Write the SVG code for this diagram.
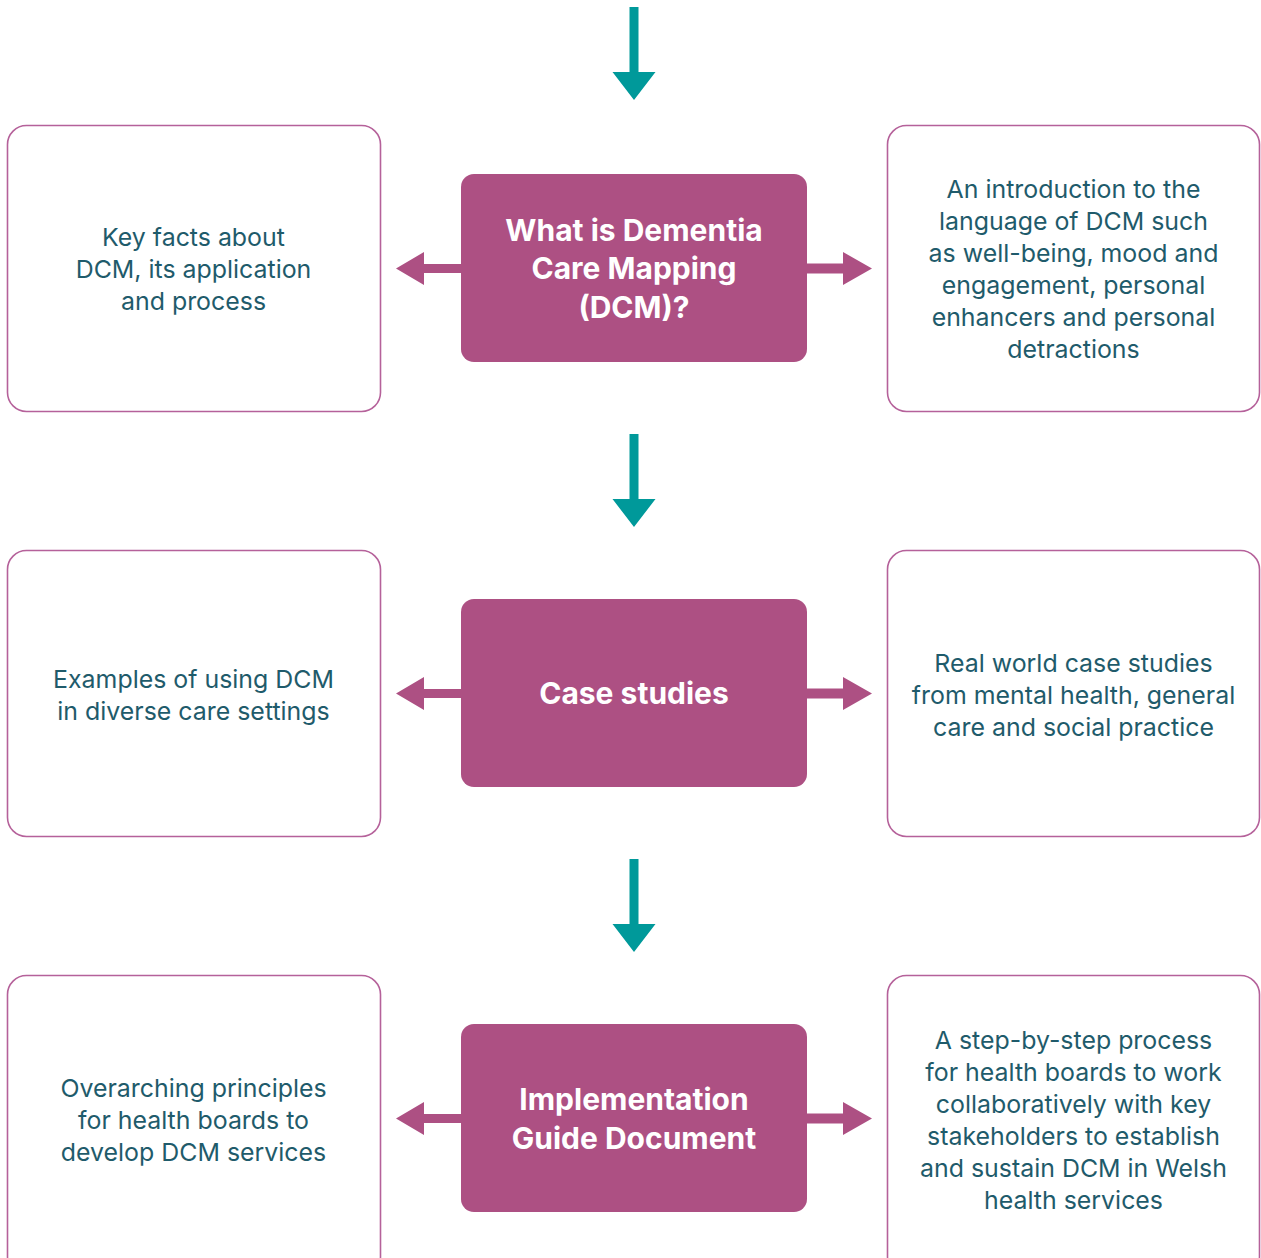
<svg xmlns="http://www.w3.org/2000/svg" width="1261" height="1258" viewBox="0 0 1261 1258">
<style>
.side{fill:#fff;stroke:#b5619a;stroke-width:1.6}
.main{fill:#ad5083}
.st{font-family:Inter,"Noto Sans",sans-serif;font-size:24.9px;fill:#1f5b6b;text-anchor:middle}
.mt{font-family:Inter,"Noto Sans",sans-serif;font-size:30px;font-weight:700;fill:#fff;text-anchor:middle}
.down{fill:#00999a}
.lr{fill:#ad5083}
</style>
<defs>
<path id="dn" d="M629.5,0 h9 v65 h17 l-21.5,28 l-21.5,-28 h17 z"/>
<path id="la" d="M461,264 h-37 v-12 l-28,16.5 l28,16.5 v-12 h37 z"/>
<path id="ra" d="M807,263.5 h36 v-11.5 l29,16.5 l-29,16.5 v-11.5 h-36 z"/>
</defs>
<g id="connectors">
<use href="#dn" class="down" y="7"/>
<use href="#dn" class="down" y="434"/>
<use href="#dn" class="down" y="859"/>
<use href="#la" class="lr"/>
<use href="#ra" class="lr"/>
<use href="#la" class="lr" y="425"/>
<use href="#ra" class="lr" y="425"/>
<use href="#la" class="lr" y="850"/>
<use href="#ra" class="lr" y="850"/>
</g>
<g id="node-what">
<rect class="main" x="461" y="174" width="346" height="188" rx="13"/>
<text class="mt" x="634" y="241">What is Dementia</text>
<text class="mt" x="634" y="279">Care Mapping</text>
<text class="mt" x="634" y="318">(DCM)?</text>
</g>
<g id="node-keyfacts">
<rect class="side" x="7.5" y="125.5" width="373" height="286" rx="19"/>
<text class="st" x="193.5" y="246">Key facts about</text>
<text class="st" x="193.5" y="278">DCM, its application</text>
<text class="st" x="193.5" y="310">and process</text>
</g>
<g id="node-intro">
<rect class="side" x="887.5" y="125.5" width="372" height="286" rx="19"/>
<text class="st" x="1073.5" y="198">An introduction to the</text>
<text class="st" x="1073.5" y="230">language of DCM such</text>
<text class="st" x="1073.5" y="262">as well-being, mood and</text>
<text class="st" x="1073.5" y="294">engagement, personal</text>
<text class="st" x="1073.5" y="326">enhancers and personal</text>
<text class="st" x="1073.5" y="358">detractions</text>
</g>
<g id="node-case">
<rect class="main" x="461" y="599" width="346" height="188" rx="13"/>
<text class="mt" x="634" y="704">Case studies</text>
</g>
<g id="node-examples">
<rect class="side" x="7.5" y="550.5" width="373" height="286" rx="19"/>
<text class="st" x="193.5" y="688">Examples of using DCM</text>
<text class="st" x="193.5" y="720">in diverse care settings</text>
</g>
<g id="node-realworld">
<rect class="side" x="887.5" y="550.5" width="372" height="286" rx="19"/>
<text class="st" x="1073.5" y="672">Real world case studies</text>
<text class="st" x="1073.5" y="704">from mental health, general</text>
<text class="st" x="1073.5" y="736">care and social practice</text>
</g>
<g id="node-impl">
<rect class="main" x="461" y="1024" width="346" height="188" rx="13"/>
<text class="mt" x="634" y="1110">Implementation</text>
<text class="mt" x="634" y="1149">Guide Document</text>
</g>
<g id="node-principles">
<rect class="side" x="7.5" y="975.5" width="373" height="300" rx="19"/>
<text class="st" x="193.5" y="1097">Overarching principles</text>
<text class="st" x="193.5" y="1129">for health boards to</text>
<text class="st" x="193.5" y="1161">develop DCM services</text>
</g>
<g id="node-steps">
<rect class="side" x="887.5" y="975.5" width="372" height="300" rx="19"/>
<text class="st" x="1073.5" y="1049">A step-by-step process</text>
<text class="st" x="1073.5" y="1081">for health boards to work</text>
<text class="st" x="1073.5" y="1113">collaboratively with key</text>
<text class="st" x="1073.5" y="1145">stakeholders to establish</text>
<text class="st" x="1073.5" y="1177">and sustain DCM in Welsh</text>
<text class="st" x="1073.5" y="1209">health services</text>
</g>
</svg>
